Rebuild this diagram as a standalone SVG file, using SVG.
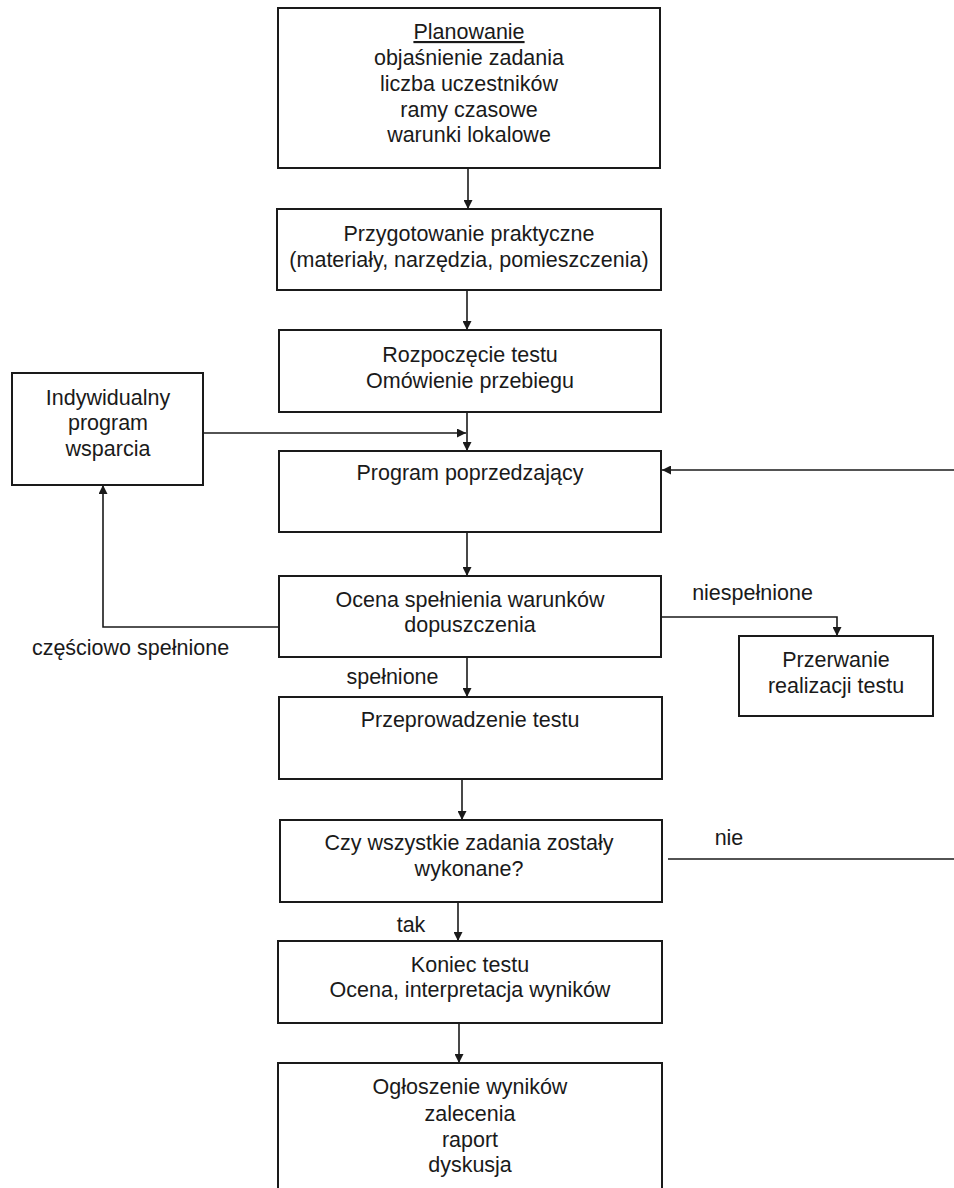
<svg xmlns="http://www.w3.org/2000/svg" width="954" height="1188" viewBox="0 0 954 1188">
<style>
.box{fill:#fff;stroke:#1a1a1a;stroke-width:2}
.t{font-family:"Liberation Sans",Arial,sans-serif;font-size:21.5px;fill:#1a1a1a;text-anchor:middle}
.c{fill:none;stroke:#1a1a1a;stroke-width:1.6}
</style>
<defs>
<marker id="ah" viewBox="0 0 10 10" refX="10" refY="5" markerWidth="9" markerHeight="9" markerUnits="userSpaceOnUse" orient="auto">
<path d="M0,0 L10,5 L0,10 Z" fill="#1a1a1a"/>
</marker>
</defs>
<rect width="954" height="1188" fill="#fff"/>
<g id="connectors">
<line class="c" x1="468" y1="169" x2="468" y2="209" marker-end="url(#ah)"/>
<line class="c" x1="467" y1="290" x2="467" y2="330" marker-end="url(#ah)"/>
<line class="c" x1="467" y1="412" x2="467" y2="451" marker-end="url(#ah)"/>
<line class="c" x1="203" y1="433" x2="466" y2="433" marker-end="url(#ah)"/>
<line class="c" x1="954" y1="470" x2="662" y2="470" marker-end="url(#ah)"/>
<line class="c" x1="467" y1="532" x2="467" y2="576" marker-end="url(#ah)"/>
<polyline class="c" points="279,627 103,627 103,485" marker-end="url(#ah)"/>
<polyline class="c" points="661,617 837,617 837,636" marker-end="url(#ah)"/>
<line class="c" x1="467" y1="657" x2="467" y2="697" marker-end="url(#ah)"/>
<line class="c" x1="462" y1="779" x2="462" y2="820" marker-end="url(#ah)"/>
<line class="c" x1="668" y1="859" x2="954" y2="859"/>
<line class="c" x1="458" y1="902" x2="458" y2="941" marker-end="url(#ah)"/>
<line class="c" x1="459" y1="1023" x2="459" y2="1063" marker-end="url(#ah)"/>
<text class="t" x="130.5" y="655">częściowo spełnione</text>
<text class="t" x="752.5" y="600">niespełnione</text>
<text class="t" x="392.5" y="684">spełnione</text>
<text class="t" x="729" y="845">nie</text>
<text class="t" x="411" y="932">tak</text>
</g>
<g id="planowanie">
<rect class="box" x="278" y="8" width="382" height="160"/>
<text class="t" x="469" y="39" text-decoration="underline">Planowanie</text>
<text class="t" x="469" y="65">objaśnienie zadania</text>
<text class="t" x="469" y="91">liczba uczestników</text>
<text class="t" x="469" y="117">ramy czasowe</text>
<text class="t" x="469" y="142">warunki lokalowe</text>
</g>
<g id="przygotowanie">
<rect class="box" x="277" y="209" width="384" height="81"/>
<text class="t" x="469" y="241">Przygotowanie praktyczne</text>
<text class="t" x="469" y="267">(materiały, narzędzia, pomieszczenia)</text>
</g>
<g id="rozpoczecie">
<rect class="box" x="279" y="330" width="382" height="82"/>
<text class="t" x="470" y="362">Rozpoczęcie testu</text>
<text class="t" x="470" y="388">Omówienie przebiegu</text>
</g>
<g id="indywidualny">
<rect class="box" x="12" y="373" width="191" height="112"/>
<text class="t" x="108" y="405">Indywidualny</text>
<text class="t" x="108" y="430">program</text>
<text class="t" x="108" y="456">wsparcia</text>
</g>
<g id="program">
<rect class="box" x="279" y="451" width="382" height="81"/>
<text class="t" x="470" y="480">Program poprzedzający</text>
</g>
<g id="ocena">
<rect class="box" x="279" y="576" width="382" height="81"/>
<text class="t" x="470" y="607">Ocena spełnienia warunków</text>
<text class="t" x="470" y="632">dopuszczenia</text>
</g>
<g id="przerwanie">
<rect class="box" x="739" y="636" width="194" height="80"/>
<text class="t" x="836" y="667">Przerwanie</text>
<text class="t" x="836" y="693">realizacji testu</text>
</g>
<g id="przeprowadzenie">
<rect class="box" x="279" y="697" width="383" height="82"/>
<text class="t" x="470" y="727">Przeprowadzenie testu</text>
</g>
<g id="czy">
<rect class="box" x="280" y="820" width="382" height="82"/>
<text class="t" x="469" y="850">Czy wszystkie zadania zostały</text>
<text class="t" x="469" y="876">wykonane?</text>
</g>
<g id="koniec">
<rect class="box" x="278" y="941" width="384" height="82"/>
<text class="t" x="470" y="972">Koniec testu</text>
<text class="t" x="470" y="997">Ocena, interpretacja wyników</text>
</g>
<g id="ogloszenie">
<rect class="box" x="278" y="1063" width="384" height="140"/>
<text class="t" x="470" y="1094">Ogłoszenie wyników</text>
<text class="t" x="470" y="1121">zalecenia</text>
<text class="t" x="470" y="1147">raport</text>
<text class="t" x="470" y="1172">dyskusja</text>
</g>
</svg>
